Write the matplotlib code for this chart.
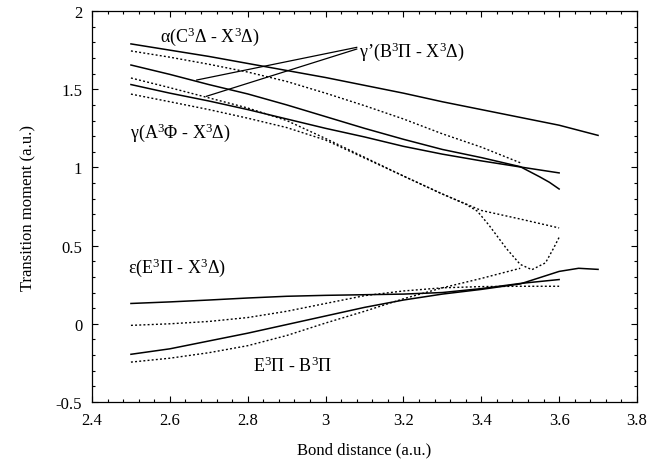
import matplotlib
matplotlib.use("Agg")
import matplotlib.pyplot as plt
from matplotlib.ticker import MultipleLocator

plt.rcParams["font.family"] = ["Liberation Serif", "DejaVu Serif"]
plt.rcParams["mathtext.fontset"] = "custom"
plt.rcParams["mathtext.rm"] = "Liberation Serif"
plt.rcParams["mathtext.it"] = "Liberation Serif:italic"

# Transition moments (a.u.) vs bond distance (a.u.)
# alpha (C3Delta - X3Delta)
alpha_solid_x = [2.5, 2.6, 2.7, 2.8, 2.9, 3.0, 3.1, 3.2, 3.3, 3.4, 3.5, 3.6, 3.7]
alpha_solid_y = [1.79, 1.75, 1.71, 1.665, 1.62, 1.575, 1.525, 1.475, 1.42, 1.37, 1.32, 1.27, 1.205]
alpha_dot_x = [2.5, 2.6, 2.7, 2.8, 2.9, 3.0, 3.1, 3.2, 3.3, 3.4, 3.5]
alpha_dot_y = [1.745, 1.705, 1.66, 1.61, 1.55, 1.475, 1.395, 1.31, 1.215, 1.13, 1.03]

# gamma' (B3Pi - X3Delta)
gp_solid_x = [2.5, 2.6, 2.7, 2.8, 2.9, 3.0, 3.1, 3.2, 3.3, 3.4, 3.5, 3.55, 3.575, 3.6]
gp_solid_y = [1.655, 1.595, 1.53, 1.47, 1.40, 1.325, 1.25, 1.18, 1.115, 1.063, 1.005, 0.94, 0.905, 0.862]
gp_dot_x = [2.5, 2.6, 2.7, 2.8, 2.9, 3.0, 3.1, 3.2, 3.3, 3.36, 3.39, 3.42, 3.465, 3.5, 3.53, 3.565, 3.585, 3.6]
gp_dot_y = [1.572, 1.51, 1.445, 1.38, 1.30, 1.185, 1.065, 0.945, 0.83, 0.765, 0.72, 0.63, 0.48, 0.38, 0.346, 0.39, 0.48, 0.553]

# gamma (A3Phi - X3Delta)
g_solid_x = [2.5, 2.6, 2.7, 2.8, 2.9, 3.0, 3.1, 3.2, 3.3, 3.4, 3.5, 3.6]
g_solid_y = [1.53, 1.475, 1.425, 1.37, 1.31, 1.25, 1.195, 1.135, 1.085, 1.042, 1.003, 0.965]
g_dot_x = [2.5, 2.6, 2.7, 2.8, 2.9, 3.0, 3.1, 3.2, 3.3, 3.4, 3.5, 3.6]
g_dot_y = [1.469, 1.42, 1.37, 1.315, 1.255, 1.175, 1.06, 0.945, 0.83, 0.725, 0.67, 0.613]

# epsilon (E3Pi - X3Delta)
eps_solid_x = [2.5, 2.6, 2.7, 2.8, 2.9, 3.0, 3.1, 3.2, 3.3, 3.4, 3.5, 3.6]
eps_solid_y = [0.13, 0.14, 0.152, 0.165, 0.176, 0.182, 0.186, 0.19, 0.2, 0.225, 0.258, 0.283]
eps_dot_x = [2.5, 2.6, 2.7, 2.8, 2.9, 3.0, 3.1, 3.2, 3.3, 3.4, 3.5, 3.6]
eps_dot_y = [-0.01, 0.0, 0.015, 0.04, 0.08, 0.13, 0.18, 0.21, 0.23, 0.238, 0.24, 0.24]

# E3Pi - B3Pi
eb_solid_x = [2.5, 2.6, 2.7, 2.8, 2.9, 3.0, 3.1, 3.2, 3.3, 3.4, 3.5, 3.55, 3.6, 3.65, 3.7]
eb_solid_y = [-0.195, -0.16, -0.11, -0.06, -0.005, 0.05, 0.105, 0.152, 0.19, 0.22, 0.255, 0.295, 0.335, 0.355, 0.348]
eb_dot_x = [2.5, 2.6, 2.7, 2.8, 2.9, 3.0, 3.1, 3.2, 3.3, 3.4, 3.5]
eb_dot_y = [-0.245, -0.22, -0.185, -0.14, -0.075, 0.005, 0.08, 0.16, 0.23, 0.29, 0.355]

x_ticks = [2.4, 2.6, 2.8, 3.0, 3.2, 3.4, 3.6, 3.8]
x_tick_labels = ["2.4", "2.6", "2.8", "3", "3.2", "3.4", "3.6", "3.8"]
y_ticks = [-0.5, 0.0, 0.5, 1.0, 1.5, 2.0]
y_tick_labels = ["-0.5", "0", "0.5", "1", "1.5", "2"]

fig = plt.figure(figsize=(6.48, 4.64), dpi=100)
ax = fig.add_axes([0.142, 0.1315, 0.841, 0.8425])

solid = dict(color="black", lw=1.1, ls="-")
dotted = dict(color="black", lw=1.0, ls=(0, (1.4, 1.6)))

ax.plot(alpha_solid_x, alpha_solid_y, **solid)
ax.plot(alpha_dot_x, alpha_dot_y, **dotted)
ax.plot(gp_solid_x, gp_solid_y, **solid)
ax.plot(gp_dot_x, gp_dot_y, **dotted)
ax.plot(g_solid_x, g_solid_y, **solid)
ax.plot(g_dot_x, g_dot_y, **dotted)
ax.plot(eps_solid_x, eps_solid_y, **solid)
ax.plot(eps_dot_x, eps_dot_y, **dotted)
ax.plot(eb_solid_x, eb_solid_y, **solid)
ax.plot(eb_dot_x, eb_dot_y, **dotted)

# pointer lines from the gamma' label to its two curves
ax.plot([2.669, 3.080], [1.559, 1.768], color="black", lw=0.9)
ax.plot([2.694, 3.080], [1.455, 1.757], color="black", lw=0.9)

fs = 13
ax.text(2.575, 1.845, r"α(C$^3$Δ - X$^3$Δ)", fontsize=fs, ha="left", va="center")
ax.text(3.085, 1.748, r"γ’(B$^3$Π - X$^3$Δ)", fontsize=fs, ha="left", va="center")
ax.text(2.498, 1.226, r"γ(A$^3$Φ - X$^3$Δ)", fontsize=fs, ha="left", va="center")
ax.text(2.493, 0.363, r"ε(E$^3$Π - X$^3$Δ)", fontsize=fs, ha="left", va="center")
ax.text(2.814, -0.266, r"E$^3$Π - B$^3$Π", fontsize=fs, ha="left", va="center")

ax.set_xlim(2.4, 3.8)
ax.set_ylim(-0.5, 2.0)
ax.set_xticks(x_ticks)
ax.set_xticklabels(x_tick_labels)
ax.set_yticks(y_ticks)
ax.set_yticklabels(y_tick_labels)
ax.xaxis.set_minor_locator(MultipleLocator(0.04))
ax.yaxis.set_minor_locator(MultipleLocator(0.1))
ax.tick_params(which="both", direction="in", top=True, right=True, labelsize=12, width=0.8)
ax.tick_params(which="major", length=4.5, pad=7)
ax.tick_params(which="minor", length=2.3)
for s in ax.spines.values():
    s.set_linewidth(0.9)

ax.set_xlabel("Bond distance (a.u.)", fontsize=12, labelpad=10)
ax.set_ylabel("Transition moment (a.u.)", fontsize=12, labelpad=14)

fig.savefig("out.png", dpi=100)
